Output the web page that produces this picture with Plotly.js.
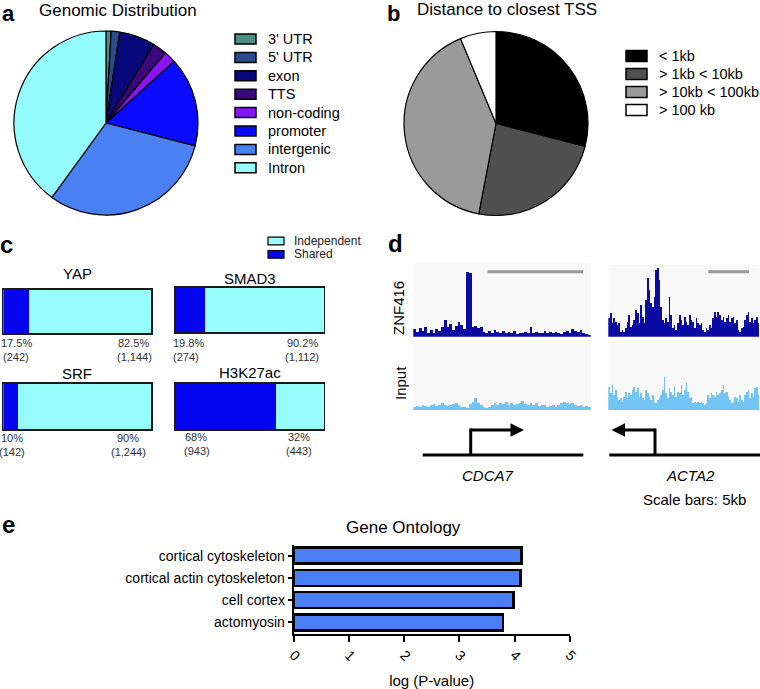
<!DOCTYPE html>
<html>
<head>
<meta charset="utf-8">
<script src="https://cdn.plot.ly/plotly-3.0.1.min.js"></script>
<style>html,body{margin:0;padding:0;background:#fff;}#chart{width:760px;height:689px;}</style>
</head>
<body>
<div id="chart"></div>
<script>
// ---------------- DATA ----------------
// a: genomic distribution
const genomicLabels = ["3' UTR", "5' UTR", "exon", "TTS", "non-coding", "promoter", "intergenic", "Intron"];
const genomicValues = [0.9, 1.5, 6.3, 2.5, 2.1, 15.7, 31.0, 40.0];
const genomicColors = ["#4b8c86", "#2a4b8c", "#08087a", "#3a087a", "#8a14f5", "#0a0aff", "#4a80f2", "#94fcfc"];

// b: distance to closest TSS
const tssLabels = ["< 1kb", "> 1kb < 10kb", "> 10kb < 100kb", "> 100 kb"];
const tssValues = [29.0, 24.0, 40.7, 6.3];
const tssColors = ["#000000", "#505050", "#9a9a9a", "#ffffff"];

// c: overlap bars
const overlapNames = ["YAP", "SMAD3", "SRF", "H3K27ac"];
const sharedCounts = [242, 274, 142, 943];
const independentCounts = [1144, 1112, 1244, 443];
const sharedPctLabels = ["17.5%", "19.8%", "10%", "68%"];
const sharedCountLabels = ["(242)", "(274)", "(142)", "(943)"];
const indepPctLabels = ["82.5%", "90.2%", "90%", "32%"];
const indepCountLabels = ["(1,144)", "(1,112)", "(1,244)", "(443)"];
const overlapLegend = ["Independent", "Shared"];

// d: signal tracks
const znfCDCA7 = [22,15,25,18,28,12,20,10,24,18,30,50,28,38,20,32,45,35,22,195,190,28,32,25,30,15,10,18,12,20,15,12,16,10,14,12,18,8,12,10,14,12,28,10,14,12,10,16,12,15,10,14,12,8,14,16,12,22,18,14,20,10,8,4];
const inputCDCA7 = [8,12,10,15,12,9,14,18,12,16,22,15,12,14,18,20,15,10,8,5,18,25,35,22,14,10,6,8,15,20,15,22,18,25,15,20,16,18,22,28,18,14,22,15,20,12,16,15,10,12,15,10,14,20,25,22,18,20,16,12,15,10,12,8];
const znfACTA2 = [55,70,40,55,45,35,40,15,20,15,25,45,65,30,35,50,80,70,40,95,60,40,110,175,140,100,90,120,200,205,170,90,50,40,55,45,120,65,25,35,20,40,65,50,35,60,45,35,65,50,45,25,55,40,35,40,20,15,25,20,35,25,55,75,60,75,65,50,60,45,55,65,45,55,60,40,50,20,15,25,30,50,65,75,45,55,40,50,60,40];
const inputACTA2 = [70,50,75,45,60,40,30,35,25,40,55,35,50,45,60,70,55,65,40,50,35,30,60,50,40,30,45,25,20,30,35,45,60,100,50,35,65,55,45,70,40,55,50,75,45,60,80,55,35,40,20,25,20,25,20,25,20,15,20,45,35,50,45,40,55,45,50,60,75,50,55,40,30,20,25,40,35,25,45,30,25,45,55,60,35,50,40,65,70,45];
const trackNames = ["ZNF416", "Input"];
const geneNames = ["CDCA7", "ACTA2"];

// e: gene ontology
const goTerms = ["cortical cytoskeleton", "cortical actin cytoskeleton", "cell cortex", "actomyosin"];
const goValues = [4.13, 4.11, 3.98, 3.79];
const goTicks = [0, 1, 2, 3, 4, 5];

// ---------------- HELPERS ----------------
const W = 760, H = 689;
const FONT = "Liberation Sans, Arial, Helvetica, sans-serif";
const fx = v => v / W;
const fy = v => 1 - v / H;
const dx = (a, b) => [a / W, b / W];
const dy = (top, bottom) => [1 - bottom / H, 1 - top / H];

const traces = [];
const annotations = [];
const shapes = [];
const layout = {
  width: W, height: H,
  margin: {l: 0, r: 0, t: 0, b: 0, pad: 0},
  paper_bgcolor: "#ffffff", plot_bgcolor: "rgba(0,0,0,0)",
  showlegend: false,
  barmode: "stack",
  font: {family: FONT, color: "#000"},
  annotations: annotations,
  shapes: shapes
};

function txt(x, y, text, size, opts) {
  annotations.push(Object.assign({
    xref: "paper", yref: "paper", x: fx(x), y: fy(y), text: text, showarrow: false,
    xanchor: "center", yanchor: "middle", font: {family: FONT, size: size, color: "#000"}
  }, opts || {}));
}

// ---------------- PANEL LETTERS & TITLES ----------------
const bold = s => "<b>" + s + "</b>";
txt(8, 0, bold("a"), 22, {yanchor: "top", borderpad: 0});
txt(394, 0, bold("b"), 22, {yanchor: "top", borderpad: 0});
txt(7, 244, bold("c"), 24);
txt(395, 243, bold("d"), 24);
txt(8, 524, bold("e"), 24);
txt(118, 11, "Genomic Distribution", 17);
txt(507, 10, "Distance to closest TSS", 17);

// ---------------- a: pie ----------------
traces.push({
  type: "pie", labels: genomicLabels, values: genomicValues, sort: false, direction: "clockwise", rotation: 0,
  marker: {colors: genomicColors, line: {color: "#000", width: 1.2}},
  textinfo: "none", hoverinfo: "label+value",
  domain: {x: dx(14, 198), y: dy(31, 215)}
});
genomicLabels.forEach((lab, i) => {
  const yc = 39 + i * 18.4;
  shapes.push({type: "rect", xref: "paper", yref: "paper", x0: fx(235), x1: fx(256), y0: fy(yc + 5), y1: fy(yc - 5),
    fillcolor: genomicColors[i], line: {color: "#000", width: 1.5}});
  txt(266, yc, lab, 14.5, {xanchor: "left"});
});

// ---------------- b: pie ----------------
traces.push({
  type: "pie", labels: tssLabels, values: tssValues, sort: false, direction: "clockwise", rotation: 0,
  marker: {colors: tssColors, line: {color: "#000", width: 1.2}},
  textinfo: "none", hoverinfo: "label+value",
  domain: {x: dx(404, 588), y: dy(31.5, 215.5)}
});
tssLabels.forEach((lab, i) => {
  const yc = 56 + i * 18;
  shapes.push({type: "rect", xref: "paper", yref: "paper", x0: fx(626), x1: fx(647), y0: fy(yc + 5.5), y1: fy(yc - 5.5),
    fillcolor: tssColors[i], line: {color: "#000", width: 1.5}});
  txt(657, yc, lab, 14.5, {xanchor: "left"});
});

// ---------------- c: stacked bars ----------------
const SHARED_C = "#0505f0", INDEP_C = "#96fcfc";
const cBoxes = [
  {x: [3.3, 151], y: [290, 333], title: [77, 273]},
  {x: [176, 323.5], y: [288, 332], title: [250, 278]},
  {x: [3.3, 151], y: [384, 429], title: [77, 373]},
  {x: [176, 323.5], y: [384, 429], title: [250, 372]}
];
const cLabelPos = [
  {s: [16, 343, 16, 357], i: [133, 343, 134, 357]},
  {s: [188, 343, 186, 357], i: [302, 343, 302, 357]},
  {s: [12, 438, 12, 452], i: [128, 438, 128, 452]},
  {s: [196, 437, 197, 451], i: [299, 437, 299, 451]}
];
overlapNames.forEach((name, k) => {
  const n = k + 1;
  const xa = n === 1 ? "x" : "x" + n, ya = n === 1 ? "y" : "y" + n;
  const total = sharedCounts[k] + independentCounts[k];
  traces.push({type: "bar", orientation: "h", x: [100 * sharedCounts[k] / total], y: [name], width: 1,
    xaxis: xa, yaxis: ya, marker: {color: SHARED_C, line: {width: 0}}, name: "Shared", hoverinfo: "x"});
  traces.push({type: "bar", orientation: "h", x: [100 * independentCounts[k] / total], y: [name], width: 1,
    xaxis: xa, yaxis: ya, marker: {color: INDEP_C, line: {width: 0}}, name: "Independent", hoverinfo: "x"});
  const b = cBoxes[k];
  layout["xaxis" + (n === 1 ? "" : n)] = {domain: dx(b.x[0], b.x[1]), range: [0, 100], anchor: ya,
    showline: true, mirror: true, linecolor: "#1a1a1a", linewidth: 1.8, showgrid: false, zeroline: false,
    showticklabels: false, ticks: "", fixedrange: true};
  layout["yaxis" + (n === 1 ? "" : n)] = {domain: dy(b.y[0], b.y[1]), range: [-0.5, 0.5], anchor: xa,
    showline: true, mirror: true, linecolor: "#1a1a1a", linewidth: 1.8, showgrid: false, zeroline: false,
    showticklabels: false, ticks: "", fixedrange: true};
  txt(b.title[0], b.title[1], name, 15);
  const L = cLabelPos[k], f = 11;
  txt(L.s[0], L.s[1], sharedPctLabels[k], f, {font: {family: FONT, size: f, color: "#333"}});
  txt(L.s[2], L.s[3], sharedCountLabels[k], f, {font: {family: FONT, size: f, color: "#333"}});
  txt(L.i[0], L.i[1], indepPctLabels[k], f, {font: {family: FONT, size: f, color: "#333"}});
  txt(L.i[2], L.i[3], indepCountLabels[k], f, {font: {family: FONT, size: f, color: "#333"}});
});
[INDEP_C, SHARED_C].forEach((c, i) => {
  const yc = 241 + i * 13.3;
  shapes.push({type: "rect", xref: "paper", yref: "paper", x0: fx(268), x1: fx(284), y0: fy(yc + 3.8), y1: fy(yc - 3.8),
    fillcolor: c, line: {color: "#000", width: 1.2}});
  txt(292, yc, overlapLegend[i], 12, {xanchor: "left", font: {family: FONT, size: 12, color: "#222"}});
});

// ---------------- d: tracks ----------------
const ZNF_C = "#0b0ba3", INP_C = "#72c4f4";
const tracks = [
  {data: znfCDCA7, color: ZNF_C, x: [413.3, 590.7], y: [263.3, 336.7], range: [0, 220]},
  {data: inputCDCA7, color: INP_C, x: [413.3, 590.7], y: [343.3, 410], range: [0, 200]},
  {data: znfACTA2, color: ZNF_C, x: [608.3, 759.5], y: [265, 336.7], range: [0, 215]},
  {data: inputACTA2, color: INP_C, x: [608.3, 759.5], y: [341.7, 410], range: [0, 205]}
];
tracks.forEach((t, k) => {
  const n = 5 + k;
  const idx = t.data.map((_, i) => i);
  traces.push({type: "bar", x: idx, y: t.data, width: 1, xaxis: "x" + n, yaxis: "y" + n,
    marker: {color: t.color, line: {width: 0}}, hoverinfo: "y"});
  layout["xaxis" + n] = {domain: dx(t.x[0], t.x[1]), range: [-0.5, t.data.length - 0.5], anchor: "y" + n,
    visible: false, fixedrange: true};
  layout["yaxis" + n] = {domain: dy(t.y[0], t.y[1]), range: t.range, anchor: "x" + n,
    visible: false, fixedrange: true};
  shapes.push({type: "rect", xref: "x" + n + " domain", yref: "y" + n + " domain", x0: 0, x1: 1, y0: 0, y1: 1,
    fillcolor: "#f8f8f8", line: {width: 0}, layer: "below"});
});
txt(398, 308, trackNames[0], 15, {textangle: -90});
txt(400, 383, trackNames[1], 15, {textangle: -90});
// scale bars (5 kb)
[[487.7, 583.3], [708.3, 749]].forEach(s => {
  shapes.push({type: "line", xref: "paper", yref: "paper", x0: fx(s[0]), x1: fx(s[1]), y0: fy(271.7), y1: fy(271.7),
    line: {color: "#999", width: 3}});
});
// gene models
const LINE_Y = 455, ARROW_Y = 430;
[[422.7, 583.3], [609.3, 760]].forEach(s => {
  shapes.push({type: "line", xref: "paper", yref: "paper", x0: fx(s[0]), x1: fx(s[1]), y0: fy(LINE_Y), y1: fy(LINE_Y),
    line: {color: "#000", width: 3}});
});
[[470.7, 524], [655, 611.5]].forEach(a => {
  shapes.push({type: "line", xref: "paper", yref: "paper", x0: fx(a[0]), x1: fx(a[0]), y0: fy(LINE_Y), y1: fy(ARROW_Y - 1.5),
    line: {color: "#000", width: 3}});
  annotations.push({xref: "paper", yref: "paper", x: fx(a[1]), y: fy(ARROW_Y), ax: a[0] - a[1] + (a[1] > a[0] ? -1.5 : 1.5), ay: 0,
    text: "", showarrow: true, arrowhead: 2, arrowsize: 0.9, arrowwidth: 3, arrowcolor: "#000", standoff: 0});
});
txt(488, 475, "<i>" + geneNames[0] + "</i>", 15);
txt(690, 475, "<i>" + geneNames[1] + "</i>", 15);
txt(694, 499, "Scale bars: 5kb", 15);

// ---------------- e: gene ontology ----------------
traces.push({type: "bar", orientation: "h", x: goValues, y: goTerms, width: 0.71, xaxis: "x9", yaxis: "y9",
  marker: {color: "#4a7ef5", line: {color: "#000", width: 2.5}}, hoverinfo: "x"});
layout.xaxis9 = {domain: dx(293.7, 569.7), range: [0, 5], anchor: "y9", tickvals: goTicks, ticktext: goTicks.map(String),
  tickangle: 45, ticks: "outside", ticklen: 6, tickwidth: 2, tickcolor: "#000",
  showline: true, linecolor: "#000", linewidth: 2, showgrid: false, zeroline: false,
  tickfont: {family: FONT, size: 14, color: "#000"},
  title: {text: "log (P-value)", font: {family: FONT, size: 15, color: "#000"}, standoff: 14}, fixedrange: true};
layout.yaxis9 = {domain: dy(544.5, 633.5), anchor: "x9", autorange: false, range: [3.5, -0.5],
  type: "category", categoryorder: "array", categoryarray: goTerms,
  ticks: "outside", ticklen: 4, tickwidth: 2, tickcolor: "#000",
  showline: true, linecolor: "#000", linewidth: 2, showgrid: false, zeroline: false,
  tickfont: {family: FONT, size: 14, color: "#000"}, fixedrange: true};
txt(403, 527, "Gene Ontology", 17);

Plotly.newPlot("chart", traces, layout, {displayModeBar: false, staticPlot: true});
</script>
</body>
</html>
